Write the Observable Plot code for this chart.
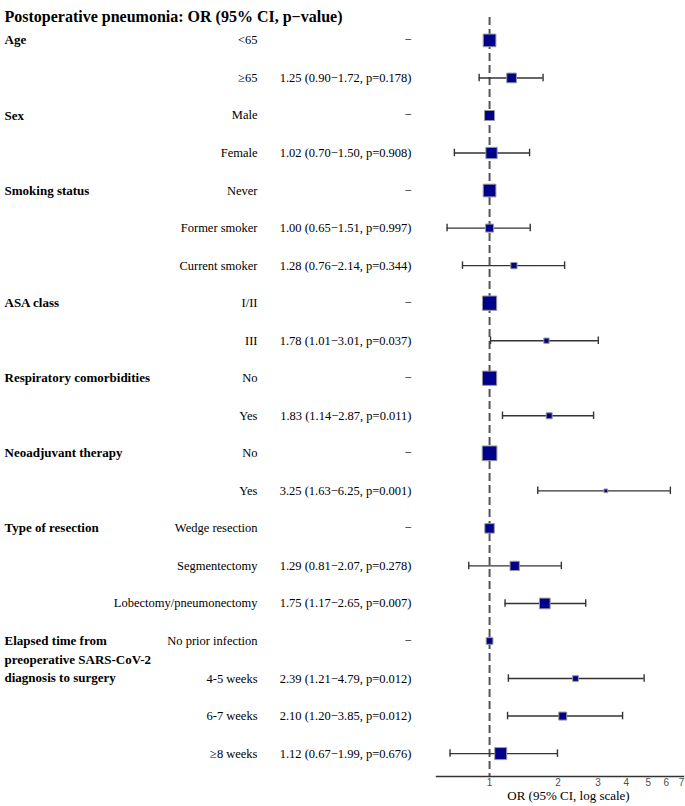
<!DOCTYPE html>
<html>
<head>
<meta charset="utf-8">
<script src="https://cdn.jsdelivr.net/npm/d3@7"></script>
<script src="https://cdn.jsdelivr.net/npm/@observablehq/plot@0.6"></script>
<style>
  html, body { margin: 0; padding: 0; background: #fff; }
  #chart svg { display: block; }
</style>
</head>
<body>
<div id="chart"></div>
<script>
const title = "Postoperative pneumonia: OR (95% CI, p\u2212value)";
const axisTitle = "OR (95% CI, log scale)";
const groups = ["Age", "", "Sex", "", "Smoking status", "", "", "ASA class", "", "Respiratory comorbidities", "", "Neoadjuvant therapy", "", "Type of resection", "", "", "Elapsed time from\npreoperative SARS-CoV-2\ndiagnosis to surgery", "", "", ""];
const subgroups = ["<65", "\u226565", "Male", "Female", "Never", "Former smoker", "Current smoker", "I/II", "III", "No", "Yes", "No", "Yes", "Wedge resection", "Segmentectomy", "Lobectomy/pneumonectomy", "No prior infection", "4-5 weeks", "6-7 weeks", "\u22658 weeks"];
const oddsRatio = [1, 1.25, 1, 1.02, 1, 1.00, 1.28, 1, 1.78, 1, 1.83, 1, 3.25, 1, 1.29, 1.75, 1, 2.39, 2.10, 1.12];
const lower = [null, 0.90, null, 0.70, null, 0.65, 0.76, null, 1.01, null, 1.14, null, 1.63, null, 0.81, 1.17, null, 1.21, 1.20, 0.67];
const upper = [null, 1.72, null, 1.50, null, 1.51, 2.14, null, 3.01, null, 2.87, null, 6.25, null, 2.07, 2.65, null, 4.79, 3.85, 1.99];
const pValue = [null, "0.178", null, "0.908", null, "0.997", "0.344", null, "0.037", null, "0.011", null, "0.001", null, "0.278", "0.007", null, "0.012", "0.012", "0.676"];
const weight = [12.7, 9.7, 10, 11.3, 12.7, 8, 6.3, 14.3, 5.3, 14.3, 6, 14.7, 3.7, 9.5, 9.3, 10.7, 6.7, 5.7, 8, 12];
const xTicks = [1, 2, 3, 4, 5, 6, 7];

const rows = subgroups.map((s, i) => ({
  row: i,
  group: groups[i],
  sub: s,
  or: oddsRatio[i],
  lo: lower[i],
  hi: upper[i],
  w: weight[i],
  label: lower[i] == null ? "\u2212"
    : `${oddsRatio[i].toFixed(2)} (${lower[i].toFixed(2)}\u2212${upper[i].toFixed(2)}, p=${pValue[i]})`
}));
const ci = rows.filter(d => d.lo != null);
const serif = "'Liberation Serif', 'Times New Roman', serif";

const chart = Plot.plot({
  width: 685,
  height: 806,
  marginLeft: 436,
  marginRight: 2,
  marginTop: 17,
  marginBottom: 30,
  style: {fontFamily: serif, background: "#fff", overflow: "visible"},
  x: {type: "log", domain: [0.584, 7.14], axis: null},
  y: {type: "band", domain: d3.range(rows.length), paddingInner: 0, paddingOuter: 0.11, round: false, axis: null},
  r: {type: "linear", domain: [0, 1], range: [0, 1 / Math.sqrt(Math.PI)]},
  marks: [
    Plot.ruleX([1], {stroke: "#555", strokeWidth: 2, strokeDasharray: "8,4"}),
    Plot.ruleY(ci, {y: "row", x1: "lo", x2: "hi", stroke: "#333", strokeWidth: 1.4}),
    Plot.tickX(ci, {x: "lo", y: "row", stroke: "#333", strokeWidth: 1.4, insetTop: 15, insetBottom: 15}),
    Plot.tickX(ci, {x: "hi", y: "row", stroke: "#333", strokeWidth: 1.4, insetTop: 15, insetBottom: 15}),
    Plot.dot(rows, {x: "or", y: "row", r: "w", symbol: "square", fill: "#00008B", stroke: "#999", strokeWidth: 1}),
    Plot.text(xTicks, {x: d => d, text: d => String(d), frameAnchor: "bottom", lineAnchor: "top", dy: 2, fontFamily: "'Liberation Sans', Arial, sans-serif", fontSize: 10, fill: "#4d4d4d"}),
    Plot.frame({anchor: "bottom", stroke: "#333", strokeWidth: 1.4}),
    Plot.text(rows.filter(d => d.group), {y: "row", text: "group", frameAnchor: "left", textAnchor: "start", lineAnchor: "top", dx: -432, dy: -9, fontWeight: "bold", fontSize: 13, lineHeight: 1.42, fill: "#000"}),
    Plot.text(rows, {y: "row", text: "sub", frameAnchor: "left", textAnchor: "end", dx: -179, fontSize: 12.5, fill: "#000"}),
    Plot.text(rows, {y: "row", text: "label", frameAnchor: "left", textAnchor: "end", dx: -25, fontSize: 12.5, fill: "#000"}),
    Plot.text([title], {frameAnchor: "top-left", textAnchor: "start", dx: -432, dy: -7, fontWeight: "bold", fontSize: 16, fill: "#000"}),
    Plot.text([axisTitle], {frameAnchor: "bottom", dx: 8.5, dy: 23.5, fontSize: 13, fill: "#000"})
  ]
});
document.getElementById("chart").appendChild(chart);
</script>
</body>
</html>
